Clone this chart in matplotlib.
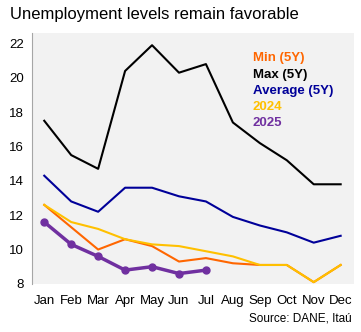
import numpy as np
import matplotlib.pyplot as plt

plt.rcParams['font.family'] = ['Liberation Sans', 'DejaVu Sans']

months = ["Jan", "Feb", "Mar", "Apr", "May", "Jun", "Jul", "Aug", "Sep", "Oct", "Nov", "Dec"]
min_5y = [12.6, 11.3, 10.0, 10.6, 10.2, 9.3, 9.5, 9.2, 9.1, 9.1, 8.1, 9.1]
max_5y = [17.5, 15.5, 14.7, 20.4, 21.9, 20.3, 20.8, 17.4, 16.2, 15.2, 13.8, 13.8]
avg_5y = [14.3, 12.8, 12.2, 13.6, 13.6, 13.1, 12.8, 11.9, 11.4, 11.0, 10.4, 10.8]
y2024 = [12.6, 11.6, 11.2, 10.6, 10.3, 10.2, 9.9, 9.6, 9.1, 9.1, 8.1, 9.1]
y2025 = [11.6, 10.3, 9.6, 8.8, 9.0, 8.6, 8.8]

c_min = "#FF6600"
c_max = "#000000"
c_avg = "#000099"
c_24 = "#FFC000"
c_25 = "#7030A0"

fig = plt.figure(figsize=(3.61, 3.32), dpi=100)
ax = fig.add_axes([0.089, 0.145, 0.892, 0.755])
ax.set_facecolor("#F2F2F2")

x = np.arange(len(months))
ax.plot(x, min_5y, color=c_min, lw=1.5)
ax.plot(x, y2024, color=c_24, lw=1.5)
ax.plot(x, max_5y, color=c_max, lw=1.5)
ax.plot(x, avg_5y, color=c_avg, lw=1.5)
ax.plot(x[:len(y2025)], y2025, color=c_25, lw=2.5, marker="o", ms=5)

ax.set_xlim(-0.45, 11.5)
ax.set_ylim(8, 22.6)
ax.set_yticks(range(8, 23, 2))
ax.set_xticks(x)
ax.set_xticklabels(months)
ax.tick_params(length=0, labelsize=9.5, pad=6)
ax.tick_params(axis="x", pad=8)
for s in ["top", "right", "bottom"]:
    ax.spines[s].set_visible(False)
ax.spines["left"].set_color("#A6A6A6")

labels = [("Min (5Y)", c_min), ("Max (5Y)", c_max), ("Average (5Y)", c_avg),
          ("2024", c_24), ("2025", c_25)]
for i, (t, c) in enumerate(labels):
    ax.text(0.685, 0.9 - i * 0.065, t, color=c, fontsize=9.5, fontweight="bold",
            transform=ax.transAxes, va="center")

fig.text(0.028, 0.955, "Unemployment levels remain favorable", fontsize=12, va="center")
fig.text(0.975, 0.04, "Source: DANE, Itaú", fontsize=8.5, ha="right", va="center")

fig.savefig("out.png", dpi=100)
